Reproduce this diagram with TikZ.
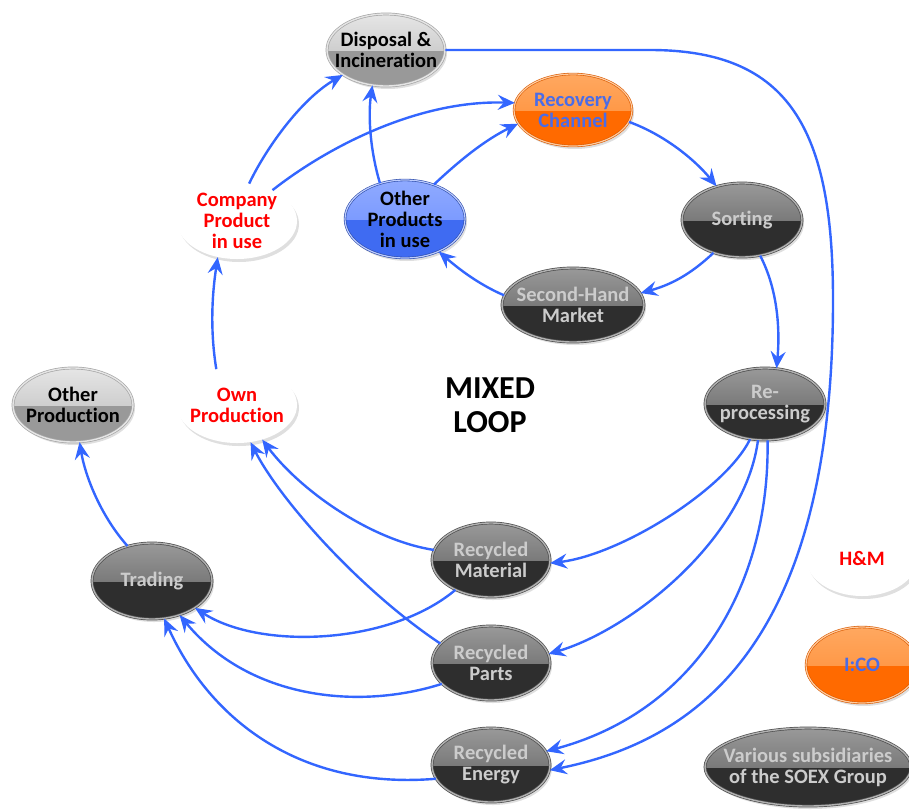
\documentclass[tikz,border=0pt]{standalone}
\usepackage{fontspec}
\setmainfont{Carlito}[Ligatures=NoCommon]
\usetikzlibrary{shapes.geometric,shadows,arrows.meta}
\definecolor{arrowblue}{HTML}{3366FF}
\definecolor{orangeA}{HTML}{FFA860}
\definecolor{orangeB}{HTML}{FF8A30}
\definecolor{orangeC}{HTML}{FF6A00}
\definecolor{blueA}{HTML}{8FAAFF}
\definecolor{blueB}{HTML}{6A8CFF}
\definecolor{blueC}{HTML}{3F6BF2}
\definecolor{txtblue}{HTML}{4A6CE8}
\begin{document}
\begin{tikzpicture}[x=1pt,y=-1pt,
  ball/.style={ellipse, inner sep=0pt, minimum width=120pt, minimum height=75pt,
    drop shadow={opacity=0.25, shadow xshift=2pt, shadow yshift=-3pt}},
  gloss/.style n args={3}{fill=#3, path picture={\fill[top color=#1, bottom color=#2]
    (path picture bounding box.north west) rectangle (path picture bounding box.east);}},
  darkn/.style={ball, gloss={black!40}{black!64}{black!82}, draw=black!70,
    double=black!30, double distance=1.4pt, line width=0.7pt},
  grayn/.style={ball, gloss={black!10}{black!28}{black!40}, draw=black!35,
    double=black!10, double distance=1.4pt, line width=0.7pt},
  orangen/.style={ball, gloss={orangeA}{orangeB}{orangeC}, draw=orangeC!85!black,
    double=orangeA!60!white, double distance=1.2pt, line width=0.6pt},
  bluen/.style={ball, gloss={blueA}{blueB}{blueC}, draw=blueC!70!black,
    double=blueA!60!white, double distance=1.2pt, line width=0.6pt},
  whiten/.style={ball, fill=white},
  txt/.style={font=\bfseries\fontsize{20.5}{21}\selectfont, align=center, inner sep=0pt},
  txtd/.style={txt, text=black!20},
  txtk/.style={txt, text=black},
  txtr/.style={txt, text=red},
  txtb/.style={txt, text=txtblue},
  conn/.style={draw=arrowblue, line width=2.4pt, -{Stealth[length=17pt,width=15pt,inset=6pt]}},
]
\useasboundingbox (0,0) rectangle (909,809);

% nodes
\node[grayn, minimum width=118pt, minimum height=72pt, label={[txtk]center:{Disposal \&\\Incineration}}] (disp) at (386,50) {};
\node[orangen, minimum width=118pt, minimum height=72pt, label={[txtb]center:{Recovery\\Channel}}] (rec) at (573,110) {};
\node[whiten, minimum height=76pt, label={[txtr]center:{Company\\Product\\in use}}] (comp) at (237,221) {};
\node[bluen, minimum height=78pt, label={[txtk]center:{Other\\Products\\in use}}] (oth) at (405,219) {};
\node[darkn, minimum height=74pt, label={[txtd]center:{Sorting}}] (sort) at (742,220) {};
\node[darkn, minimum width=142pt, minimum height=74pt, label={[txtd]center:{Second-Hand\\Market}}] (shm) at (573,305) {};
\node[grayn, minimum height=74pt, label={[txtk]center:{Other\\Production}}] (othprod) at (73,405) {};
\node[whiten, minimum height=76pt, label={[txtr]center:{Own\\Production}}] (own) at (237,405) {};
\node[darkn, minimum height=72pt, label={[txtd]center:{Re-\\processing}}] (repro) at (765,404) {};
\node[darkn, minimum width=118pt, minimum height=74pt, label={[txtd]center:{Recycled\\Material}}] (mat) at (491,560) {};
\node[darkn, minimum width=118pt, minimum height=74pt, label={[txtd]center:{Recycled\\Parts}}] (parts) at (491,663) {};
\node[darkn, minimum width=118pt, minimum height=74pt, label={[txtd]center:{Recycled\\Energy}}] (energy) at (491,765) {};
\node[darkn, minimum height=76pt, label={[txtd]center:{Trading}}] (trade) at (152,581) {};
\node[whiten, minimum width=112pt, minimum height=76pt, label={[txtr]center:{H\&M}}] (hm) at (862,558) {};
\node[orangen, minimum width=112pt, minimum height=76pt, label={[txtb]center:{I:CO}}] (ico) at (862,665) {};
\node[darkn, minimum width=206pt, minimum height=78pt, label={[txtd]center:{Various subsidiaries\\of the SOEX Group}}] (soex) at (808,767) {};

\node[font=\bfseries\fontsize{32}{34}\selectfont, align=center, inner sep=0pt] (mixed) at (490,405) {MIXED\\LOOP};

% connectors
\draw[conn] (comp.72) .. controls (265,150) and (300,100) .. (disp.210);
\draw[conn] (comp.41) .. controls (330,145) and (420,100) .. (rec.173);
\draw[conn] (oth.125) .. controls (370,150) and (368,115) .. (disp.249);
\draw[conn] (oth.50) .. controls (460,160) and (485,140) .. (rec.194);
\draw[conn] (rec.348) .. controls (665,135) and (695,160) .. (sort.127);
\draw[conn] (sort.229) .. controls (690,275) and (670,285) .. (shm.10);
\draw[conn] (shm.172) .. controls (480,285) and (460,270) .. (oth.316);
\draw[conn] (sort.297) .. controls (778,290) and (780,330) .. (repro.72);
\draw[conn] (disp.east) -- (650,50) .. controls (790,50) and (833,130) .. (833,300)
  .. controls (833,640) and (700,740) .. (energy.355);
\draw[conn] (repro.247) .. controls (725,490) and (620,555) .. (mat.357);
\draw[conn] (repro.259) .. controls (745,540) and (630,630) .. (parts.9);
\draw[conn] (repro.274) .. controls (770,580) and (700,710) .. (energy.14);
\draw[conn] (own.120) .. controls (210,330) and (212,295) .. (comp.242);
\draw[conn] (mat.170) .. controls (370,540) and (300,490) .. (own.306);
\draw[conn] (parts.159) .. controls (360,590) and (280,500) .. (own.290);
\draw[conn] (mat.220) .. controls (390,645) and (260,650) .. (trade.328);
\draw[conn] (parts.203) .. controls (360,710) and (250,700) .. (trade.309);
\draw[conn] (energy.194) .. controls (300,790) and (210,720) .. (trade.288);
\draw[conn] (trade.125) .. controls (100,515) and (85,475) .. (othprod.280);
\end{tikzpicture}
\end{document}
